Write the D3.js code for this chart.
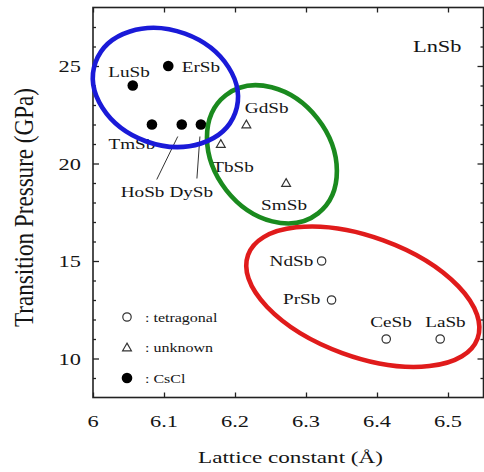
<!DOCTYPE html>
<html>
<head>
<meta charset="utf-8">
<script src="https://cdn.jsdelivr.net/npm/d3@7"></script>
<style>
  body { margin: 0; background: #fff; }
  text { font-family: "Liberation Serif", "Times New Roman", serif; fill: #151515; }
</style>
</head>
<body>
<div id="chart"></div>
<script>
// DATA ------------------------------
const compounds = ["LuSb", "ErSb", "TmSb", "HoSb", "DySb", "GdSb", "TbSb", "SmSb", "NdSb", "PrSb", "CeSb", "LaSb"];
const lattice   = [6.056, 6.106, 6.083, 6.125, 6.152, 6.216, 6.180, 6.272, 6.322, 6.336, 6.413, 6.489];
const pressure  = [24, 25, 22, 22, 22, 22, 21, 19, 15, 13, 11, 11];
const phase     = ["CsCl", "CsCl", "CsCl", "CsCl", "CsCl", "unknown", "unknown", "unknown",
                   "tetragonal", "tetragonal", "tetragonal", "tetragonal"];

const xTicks = [6, 6.1, 6.2, 6.3, 6.4, 6.5];
const yTicks = [10, 15, 20, 25];
const yMinor = [9, 11, 12, 13, 14, 16, 17, 18, 19, 21, 22, 23, 24, 26, 27];

const legendPhases = ["tetragonal", "unknown", "CsCl"];

// grouping ellipses (centre in data units, semi-axes in Å), drawn green, blue, red
const groupCx    = [6.252, 6.102, 6.380];
const groupCy    = [20.47, 23.90, 13.17];
const groupMajor = [0.1056, 0.1046, 0.172];
const groupMinor = [0.0817, 0.0806, 0.0845];
const groupAngle = [52, 20, 20];
const groupColor = ["#1a8a1e", "#1a1ad8", "#e01b1b"];

// label placement, px relative to the marker
const labelPos = {
  LuSb: [-24.5, -8.5], ErSb: [13.5, 6], TmSb: [-43.5, 24.5],
  HoSb: [-61, 72.5], DySb: [-31.5, 72.5], GdSb: [-1.5, -12],
  TbSb: [-8.5, 28], SmSb: [-25, 26.5], NdSb: [-52, 4.5],
  PrSb: [-48.5, 4], CeSb: [-16, -12], LaSb: [-15, -12]
};
const leaders = { HoSb: [-25, 55, -4, 12], DySb: [-4, 54, -1, 12] };

// CHART ------------------------------
const W = 484, H = 472;
const SX = 1.28; // figure text looks horizontally stretched

const svg = d3.select("#chart").append("svg")
  .attr("width", W).attr("height", H);
svg.append("rect").attr("width", W).attr("height", H).attr("fill", "#fff");

const x = d3.scaleLinear().domain([6, 6.55]).range([93, 483.5]);
const y = d3.scaleLinear().domain([8, 28]).range([397.5, 7.5]);

function stxt(parent, px, py, str, size, anchor) {
  return parent.append("g")
    .attr("transform", `translate(${px},${py}) scale(${SX},1)`)
    .append("text")
    .attr("text-anchor", anchor || "start")
    .style("font-size", size + "px")
    .text(str);
}

// axes (ticks only, inward)
const axes = svg.append("g").attr("class", "axes");
function tickAxis(gen, tr) {
  const g = axes.append("g").attr("transform", tr).call(gen);
  g.select(".domain").remove();
  g.selectAll("line").attr("stroke", "#222").attr("stroke-width", 1.3);
  g.selectAll("text").remove();
}
tickAxis(d3.axisBottom(x).tickValues(xTicks).tickSize(-5), `translate(0,${y(8)})`);
tickAxis(d3.axisTop(x).tickValues(xTicks).tickSize(-5), `translate(0,${y(28)})`);
tickAxis(d3.axisLeft(y).tickValues(yTicks).tickSize(-6), `translate(${x(6)},0)`);
tickAxis(d3.axisLeft(y).tickValues(yMinor).tickSize(-3), `translate(${x(6)},0)`);
tickAxis(d3.axisRight(y).tickValues(yTicks).tickSize(-6), `translate(${x(6.55)},0)`);
tickAxis(d3.axisRight(y).tickValues(yMinor).tickSize(-3), `translate(${x(6.55)},0)`);

svg.append("rect")
  .attr("x", x(6)).attr("y", y(28))
  .attr("width", x(6.55) - x(6)).attr("height", y(8) - y(28))
  .attr("fill", "none").attr("stroke", "#222").attr("stroke-width", 1.6);

// tick labels
xTicks.forEach(v => stxt(svg, x(v), 427, d3.format("~g")(v), 17.5, "middle"));
yTicks.forEach(v => stxt(svg, 81, y(v) + 6, v, 17.5, "end"));

// axis titles (lengths fitted to the figure)
svg.append("text")
  .attr("x", 290.5).attr("y", 463)
  .attr("text-anchor", "middle")
  .attr("textLength", 185).attr("lengthAdjust", "spacingAndGlyphs")
  .style("font-size", "16.5px")
  .text("Lattice constant  (Å)");
svg.append("g")
  .attr("transform", `translate(32.5,207.5) scale(1.25,1) rotate(-90)`)
  .append("text").attr("text-anchor", "middle")
  .attr("textLength", 239).attr("lengthAdjust", "spacingAndGlyphs")
  .style("font-size", "21.5px")
  .text("Transition Pressure  (GPa)");

stxt(svg, 413, 52, "LnSb", 17.5, "start");

// markers
function marker(g, kind, px, py) {
  if (kind === "CsCl") {
    g.append("circle").attr("cx", px).attr("cy", py).attr("r", 5.3).attr("fill", "#000");
  } else if (kind === "tetragonal") {
    g.append("circle").attr("cx", px).attr("cy", py).attr("r", 4.2)
      .attr("fill", "#fff").attr("stroke", "#333").attr("stroke-width", 1.2);
  } else {
    const s = 4.4;
    g.append("path")
      .attr("d", `M${px},${py - s} L${px + s},${py + s * 0.75} L${px - s},${py + s * 0.75} Z`)
      .attr("fill", "#fff").attr("stroke", "#333").attr("stroke-width", 1.2);
  }
}

const pts = svg.append("g");
compounds.forEach((name, i) => {
  const px = x(lattice[i]), py = y(pressure[i]);
  marker(pts, phase[i], px, py);
  const o = labelPos[name];
  stxt(pts, px + o[0], py + o[1], name, 15, "start");
  const l = leaders[name];
  if (l) {
    pts.append("line")
      .attr("x1", px + l[0]).attr("y1", py + l[1])
      .attr("x2", px + l[2]).attr("y2", py + l[3])
      .attr("stroke", "#333").attr("stroke-width", 1);
  }
});

// ellipses, hand-drawn over the points in the figure
const ell = svg.append("g");
groupCx.forEach((cx, i) => {
  const rx = x(cx + groupMajor[i]) - x(cx);
  const ry = x(cx + groupMinor[i]) - x(cx);
  ell.append("ellipse")
    .attr("transform", `translate(${x(cx)},${y(groupCy[i])}) rotate(${groupAngle[i]})`)
    .attr("rx", rx).attr("ry", ry)
    .attr("fill", "none")
    .attr("stroke", groupColor[i])
    .attr("stroke-width", 4.6);
});

// legend
const leg = svg.append("g");
legendPhases.forEach((p, i) => {
  const ly = 317 + i * 30.5;
  marker(leg, p, 127, ly);
  stxt(leg, 145, ly + 4.5, ": " + p, 12.5, "start");
});
</script>
</body>
</html>
